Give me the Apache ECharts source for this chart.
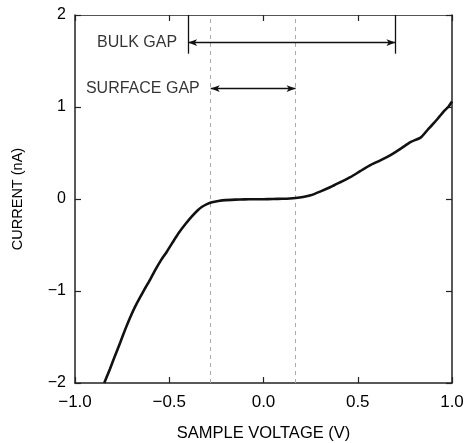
<!DOCTYPE html>
<html><head><meta charset="utf-8">
<script src="https://cdn.jsdelivr.net/npm/echarts@6/dist/echarts.min.js"></script>
<style>html,body{margin:0;padding:0;background:#fff}#c{width:469px;height:443px}</style>
</head><body><div id="c"></div>
<script>
// Sample voltage (V)
var voltage = [-0.845,-0.815,-0.787,-0.76,-0.734,-0.708,-0.681,-0.655,-0.628,-0.60,-0.574,-0.545,-0.512,-0.48,-0.45,-0.415,-0.38,-0.35,-0.326,-0.30,-0.273,-0.24,-0.202,-0.15,-0.10,-0.05,0.0,0.05,0.10,0.14,0.17,0.21,0.25,0.30,0.356,0.41,0.463,0.515,0.569,0.62,0.676,0.73,0.782,0.835,0.87,0.906,0.935,0.96,0.98,1.0];
// Tunneling current (nA)
var current = [-2.0,-1.85,-1.70,-1.56,-1.42,-1.29,-1.17,-1.07,-0.97,-0.87,-0.77,-0.67,-0.57,-0.465,-0.37,-0.275,-0.19,-0.125,-0.084,-0.055,-0.035,-0.022,-0.012,-0.007,-0.004,-0.003,-0.002,0.0,0.002,0.005,0.01,0.022,0.04,0.08,0.13,0.185,0.24,0.305,0.37,0.42,0.48,0.55,0.62,0.67,0.75,0.83,0.90,0.96,1.00,1.06];
// Gap markers
var surfaceGap = [-0.28, 0.17];
var bulkGap = [-0.40, 0.70];
var gapLabels = ['BULK GAP', 'SURFACE GAP'];

var FONT = 'Liberation Sans, Arial, sans-serif';
function minus(s){ return String(s).replace('-', '\u2212'); }

var chart = echarts.init(document.getElementById('c'), null, {renderer:'canvas'});
var axisLine = {show:true, onZero:false, lineStyle:{color:'#222', width:1.5}};
var tick = {show:true, inside:true, length:6, lineStyle:{color:'#222', width:1.2}};

chart.setOption({
  animation:false,
  grid:{left:75, right:17, top:15, bottom:60, containLabel:false, outerBoundsMode:'none'},
  xAxis:[{
    type:'value', min:-1, max:1, interval:0.5, position:'bottom',
    axisLine:axisLine, axisTick:tick, splitLine:{show:false},
    axisLabel:{color:'#000', fontSize:17, fontFamily:FONT, margin:11,
      formatter:function(v){ return minus(v.toFixed(1)); }},
    name:'SAMPLE VOLTAGE (V)', nameLocation:'middle', nameGap:42,
    nameTextStyle:{color:'#000', fontSize:16.5, fontFamily:FONT}
  },{
    type:'value', min:-1, max:1, interval:0.5, position:'top',
    axisLine:{show:true, onZero:false, lineStyle:{color:'#555', width:1.2}}, axisTick:tick, axisLabel:{show:false}, splitLine:{show:false}
  }],
  yAxis:[{
    type:'value', min:-2, max:2, interval:1, position:'left',
    axisLine:axisLine, axisTick:tick, splitLine:{show:false},
    axisLabel:{color:'#000', fontSize:16, fontFamily:FONT, margin:9,
      formatter:function(v){ return minus(v); }},
    name:'CURRENT (nA)', nameLocation:'middle', nameGap:50, nameRotate:90,
    nameTextStyle:{color:'#000', fontSize:14.5, fontFamily:FONT}
  },{
    type:'value', min:-2, max:2, interval:1, position:'right',
    axisLine:axisLine, axisTick:tick, axisLabel:{show:false}, splitLine:{show:false}
  }],
  series:[
    {
      type:'line', data:voltage.map(function(v,i){ return [v, current[i]]; }),
      showSymbol:false, smooth:0.2, lineStyle:{color:'#111', width:2.6}, z:5,
      markLine:{
        silent:true, symbol:'none', animation:false,
        label:{show:false},
        lineStyle:{color:'#aaa', type:[4,4], width:1},
        data:surfaceGap.map(function(v){ return {xAxis:v}; })
      }
    },
    {
      type:'line', data:[], markLine:{
        silent:true, animation:false, label:{show:false},
        symbol:['arrow','arrow'], symbolSize:[5,9],
        lineStyle:{color:'#111', type:'solid', width:1.3},
        data:[
          [{coord:[bulkGap[0],1.70]},{coord:[bulkGap[1],1.70]}],
          [{coord:[surfaceGap[0],1.20]},{coord:[surfaceGap[1],1.20]}],
          [{coord:[bulkGap[0],2], symbol:'none'},{coord:[bulkGap[0],1.58], symbol:'none'}],
          [{coord:[bulkGap[1],2], symbol:'none'},{coord:[bulkGap[1],1.58], symbol:'none'}]
        ]
      }
    },
    {
      type:'scatter', symbolSize:0, silent:true,
      data:[
        {value:[bulkGap[0],1.70], name:gapLabels[0]},
        {value:[surfaceGap[0],1.20], name:gapLabels[1]}
      ],
      label:{show:true, position:'left', distance:11, formatter:'{b}',
        color:'#000', fontSize:16, fontFamily:FONT}
    }
  ]
});
</script></body></html>
